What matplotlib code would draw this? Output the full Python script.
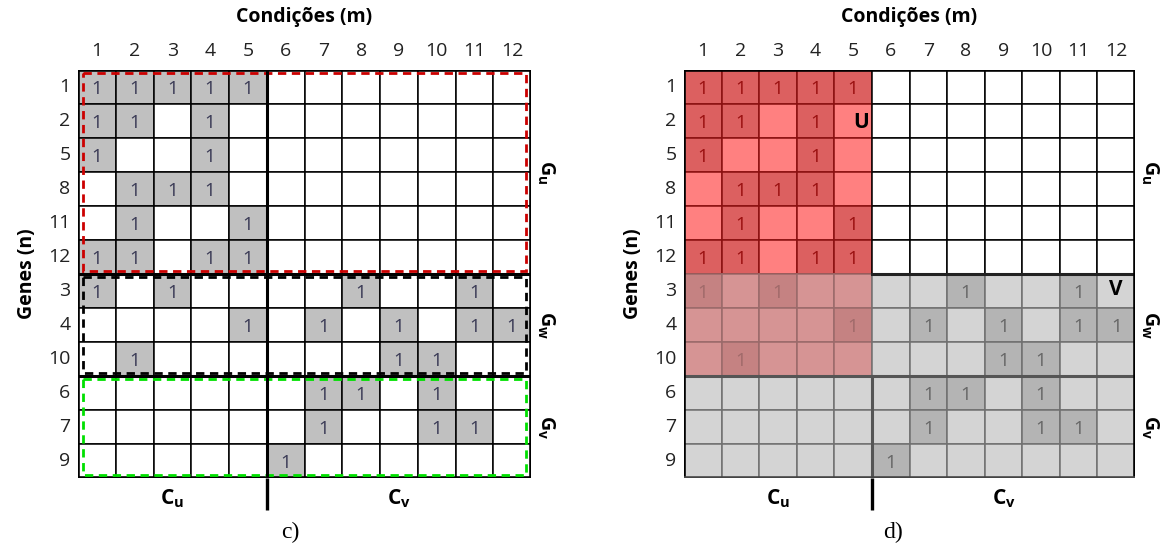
"""
Biclusters in a binary gene x condition matrix, panels c) and d).
"""

import matplotlib.pyplot as plt
from matplotlib.patches import Rectangle

plt.rcParams['font.family'] = ['Open Sans', 'DejaVu Sans']
plt.rcParams['mathtext.fontset'] = 'custom'
plt.rcParams['mathtext.rm'] = 'Open Sans'
plt.rcParams['mathtext.bf'] = 'Open Sans:bold'

# data
conditions = list(range(1, 13))
genes = [1, 2, 5, 8, 11, 12, 3, 4, 10, 6, 7, 9]
ones_per_gene = [
    [1, 2, 3, 4, 5],
    [1, 2, 4],
    [1, 4],
    [2, 3, 4],
    [2, 5],
    [1, 2, 4, 5],
    [1, 3, 8, 11],
    [5, 7, 9, 11, 12],
    [2, 9, 10],
    [7, 8, 10],
    [7, 10, 11],
    [6],
]
group_names = ['u', 'w', 'v']
group_genes = [[1, 2, 5, 8, 11, 12], [3, 4, 10], [6, 7, 9]]
cond_groups = ['u', 'v']
cond_group_members = [[1, 2, 3, 4, 5], [6, 7, 8, 9, 10, 11, 12]]
# biclusters of panel d
u_genes = [1, 2, 5, 8, 11, 12, 3, 4, 10]
u_conds = [1, 2, 3, 4, 5]
v_genes = [3, 4, 10, 6, 7, 9]
v_conds = list(range(1, 13))

W, H = 1164, 554
nr, nc = len(genes), len(conditions)

fig = plt.figure(figsize=(W / 100, H / 100), dpi=100)


def make_axes(x0, x1, y0, y1):
    ax = fig.add_axes([x0 / W, 1 - y1 / H, (x1 - x0) / W, (y1 - y0) / H])
    ax.set_xlim(0, nc)
    ax.set_ylim(nr, 0)
    ax.axis('off')
    return ax


def labels(ax):
    for j, c in enumerate(conditions):
        ax.text(j + 0.5, -0.55, str(c), ha='center', va='center',
                fontsize=14, color='#222222', clip_on=False)
    for i, g in enumerate(genes):
        ax.text(-0.2, i + 0.5, str(g), ha='right', va='center',
                fontsize=14, color='#222222', clip_on=False)
    ax.text(nc / 2, -1.55, 'Condições (m)', ha='center', va='center',
            fontsize=14, fontweight='bold', clip_on=False)
    ax.text(-1.35, nr / 2, 'Genes (n)', ha='center', va='center', rotation=90,
            fontsize=14, fontweight='bold', clip_on=False)
    # gene groups on the right
    start = 0
    for name, members in zip(group_names, group_genes):
        mid = start + len(members) / 2
        ax.text(nc + 0.38, mid, r'$\mathbf{G_%s}$' % name, rotation=-90,
                ha='center', va='center', fontsize=14, clip_on=False)
        start += len(members)
    # condition groups below
    start = 0
    for name, members in zip(cond_groups, cond_group_members):
        mid = start + len(members) / 2
        ax.text(mid, nr + 0.6, r'$\mathbf{C_%s}$' % name, ha='center',
                va='center', fontsize=15, clip_on=False)
        start += len(members)
    split = len(cond_group_members[0])
    ax.plot([split, split], [nr, nr + 0.95], color='black', lw=2.4,
            clip_on=False, solid_capstyle='butt')


# ---------------- panel c ----------------
ax1 = make_axes(78, 531, 70, 478)
for i, g in enumerate(genes):
    for j, c in enumerate(conditions):
        one = c in ones_per_gene[i]
        ax1.add_patch(Rectangle((j, i), 1, 1, facecolor='#c0c0c0' if one else 'white',
                                edgecolor='black', lw=1.1))
        if one:
            ax1.text(j + 0.5, i + 0.55, '1', ha='center', va='center',
                     fontsize=13.5, color='#3a3a55')

ax1.plot([5, 5], [0, nr], color='black', lw=2.2)
ax1.plot([0, nc], [6, 6], color='black', lw=2.2)
ax1.plot([0, nc], [9, 9], color='black', lw=2.2)
ax1.add_patch(Rectangle((0, 0), nc, nr, fill=False, edgecolor='black', lw=2.6))

dash_colors = ['#cc0000', 'black', '#00e000']
start = 0
for col, members in zip(dash_colors, group_genes):
    ax1.add_patch(Rectangle((0.12, start + 0.1), nc - 0.24, len(members) - 0.2,
                            fill=False, edgecolor=col, lw=2.0,
                            linestyle=(0, (3, 2))))
    start += len(members)
labels(ax1)
fig.text(290 / W, 1 - 532 / H, 'c)', ha='center', va='center',
         fontsize=17, family='Liberation Serif')

# ---------------- panel d ----------------
ax2 = make_axes(684, 1135, 70, 478)
for i, g in enumerate(genes):
    for j, c in enumerate(conditions):
        one = c in ones_per_gene[i]
        in_u = g in u_genes and c in u_conds
        in_v = g in v_genes and c in v_conds
        if in_u and in_v:
            fc, ec, tc = ('#c58282' if one else '#d69494'), '#9a6a6a', '#a06a6a'
        elif in_u:
            fc, ec, tc = ('#dc6060' if one else '#ff8080'), '#8a1010', '#9a1010'
        elif in_v:
            fc, ec, tc = ('#b4b4b4' if one else '#d4d4d4'), '#707070', '#666666'
        else:
            fc, ec, tc = 'white', 'black', '#333333'
        ax2.add_patch(Rectangle((j, i), 1, 1, facecolor=fc, edgecolor=ec, lw=1.1))
        if one:
            ax2.text(j + 0.5, i + 0.55, '1', ha='center', va='center',
                     fontsize=13.5, color=tc)

ax2.plot([5, nc], [6, 6], color='#222222', lw=2.2)
ax2.plot([0, nc], [9, 9], color='#555555', lw=2.2)
ax2.plot([5, 5], [9, nr], color='#555555', lw=2.2)
ax2.plot([0, nc], [0, 0], color='black', lw=2.6)
ax2.plot([0, 0], [0, nr], color='black', lw=2.6)
ax2.plot([nc, nc], [0, nr], color='black', lw=2.6)
ax2.plot([0, nc], [nr, nr], color='#444444', lw=2.6)

ax2.text(4.72, 1.55, 'U', ha='center', va='center', fontsize=15, fontweight='bold')
ax2.text(11.5, 6.45, 'V', ha='center', va='center', fontsize=15, fontweight='bold')
labels(ax2)
fig.text(893 / W, 1 - 532 / H, 'd)', ha='center', va='center',
         fontsize=17, family='Liberation Serif')

fig.savefig('out.png', dpi=100)
